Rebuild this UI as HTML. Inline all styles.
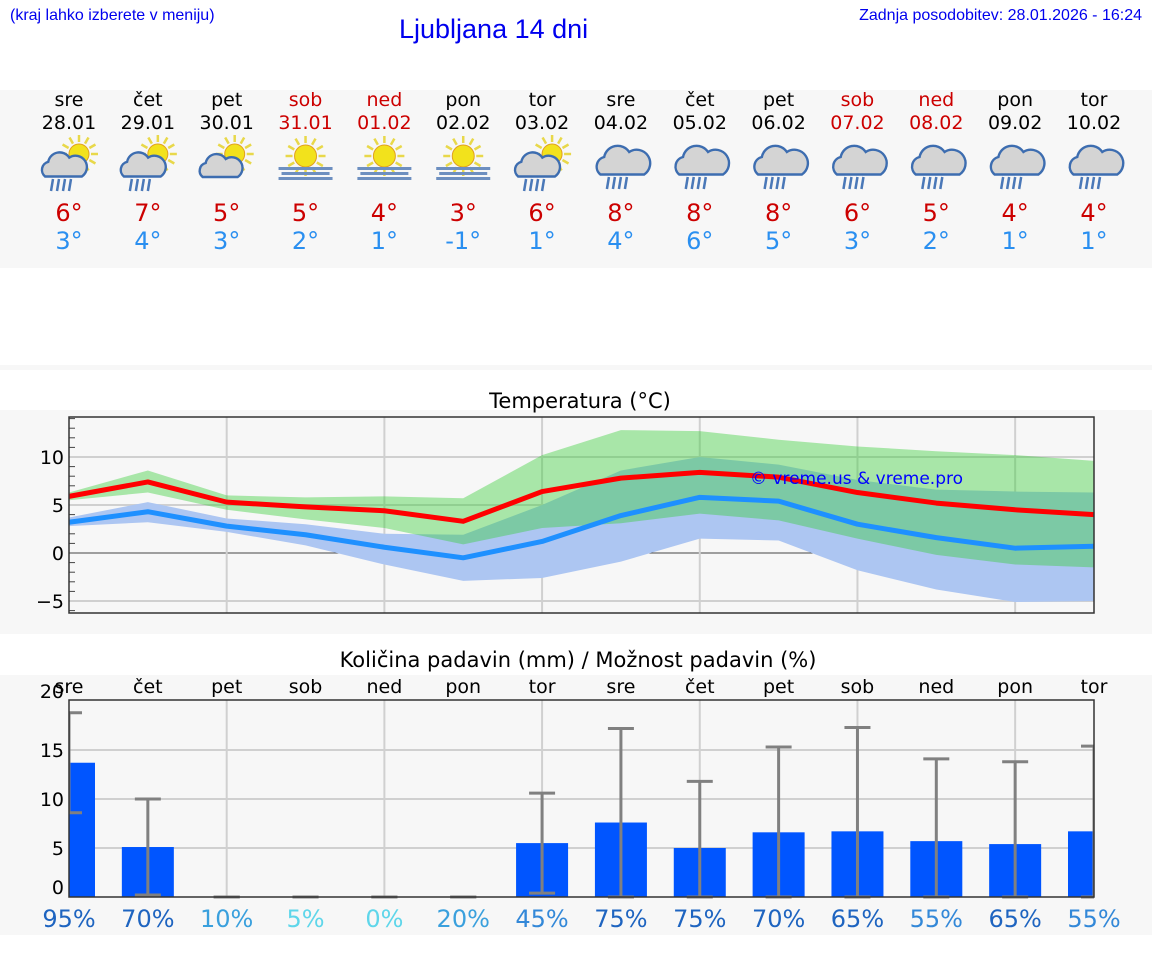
<!DOCTYPE html>
<html><head><meta charset="utf-8">
<style>
body{margin:0;width:1152px;height:975px;background:#fff;font-family:"Liberation Sans","DejaVu Sans",sans-serif;overflow:hidden;position:relative}
.abs{position:absolute}
svg text{font-family:"DejaVu Sans","Liberation Sans",sans-serif}
</style></head><body>
<div class="abs" style="left:10px;top:7px;font-size:16px;color:#0000ee">(kraj lahko izberete v meniju)</div>
<div class="abs" style="left:399px;top:14px;font-size:27px;color:#0000ee">Ljubljana 14 dni</div>
<div class="abs" style="right:10px;top:7px;font-size:16px;color:#0000ee">Zadnja posodobitev: 28.01.2026 - 16:24</div>
<svg id="main" class="abs" style="left:0;top:0" width="1152" height="975"></svg>
<script>
const days=["sre","čet","pet","sob","ned","pon","tor","sre","čet","pet","sob","ned","pon","tor"];
const dates=["28.01","29.01","30.01","31.01","01.02","02.02","03.02","04.02","05.02","06.02","07.02","08.02","09.02","10.02"];
const weekend=[0,0,0,1,1,0,0,0,0,0,1,1,0,0];
const icons=["sunrain","sunrain","suncloud","sunfog","sunfog","sunfog","sunrain","rain","rain","rain","rain","rain","rain","rain"];
const hiTemp=[6,7,5,5,4,3,6,8,8,8,6,5,4,4];
const loTemp=[3,4,3,2,1,-1,1,4,6,5,3,2,1,1];
const maxLine=[5.9,7.4,5.3,4.8,4.4,3.3,6.4,7.8,8.4,7.9,6.3,5.2,4.5,4.0];
const maxHigh=[6.3,8.6,6.0,5.8,5.9,5.7,10.2,12.8,12.7,11.8,11.1,10.6,10.2,9.6];
const maxLow=[5.5,6.3,4.5,3.5,2.6,0.9,2.6,3.1,4.1,3.4,1.5,-0.2,-1.2,-1.5];
const minLine=[3.2,4.3,2.8,1.9,0.6,-0.5,1.2,3.9,5.8,5.4,3.0,1.6,0.5,0.7];
const minHigh=[3.7,5.3,3.6,3.0,2.0,1.9,5.0,8.6,10.0,9.2,7.6,6.6,6.4,6.3];
const minLow=[2.8,3.2,2.2,0.8,-1.2,-2.9,-2.6,-0.9,1.5,1.3,-1.8,-3.8,-5.1,-5.0];
const tempTicks=[10,5,0,-5];
const precip=[13.7,5.1,0,0,0,0,5.5,7.6,5.0,6.6,6.7,5.7,5.4,6.7];
const precipHigh=[18.8,10,0,0,0,0,10.6,17.2,11.8,15.3,17.3,14.1,13.8,15.4];
const precipLow=[8.6,0.2,0,0,0,0,0.4,0,0,0,0,0,0,0];
const chance=[95,70,10,5,0,20,45,75,75,70,65,55,65,55];
const precipTicks=[20,15,10,5,0];

const NS="http://www.w3.org/2000/svg";
const svg=document.getElementById('main');
function mk(tag,attrs,parent){const e=document.createElementNS(NS,tag);for(const k in attrs)e.setAttribute(k,attrs[k]);(parent||svg).appendChild(e);return e;}
const X=i=>69+i*(1094-69)/13;
const TY=v=>553-9.6*v;
const PY=v=>897-9.8*v;

let p=mk('rect',{x:0,y:90,width:1152,height:178,fill:'#f7f7f7'});


p=mk('rect',{x:0,y:365,width:1152,height:5,fill:'#f7f7f7'});


p=mk('rect',{x:0,y:410,width:1152,height:224,fill:'#f7f7f7'});


p=mk('rect',{x:0,y:675,width:1152,height:260,fill:'#f7f7f7'});



function icon(g,type,cx,cy){
  const sun=(sx,sy,r)=>{for(let a=0;a<12;a++){const t=a*Math.PI/6;mk('line',{x1:sx+Math.cos(t)*(r+2),y1:sy+Math.sin(t)*(r+2),x2:sx+Math.cos(t)*(r+9),y2:sy+Math.sin(t)*(r+9),stroke:'#e8d84a','stroke-width':2.5},g);}
    mk('circle',{cx:sx,cy:sy,r:r,fill:'#f2e21c',stroke:'#e0a020','stroke-width':1},g);};
  const cloud=(x,y,s)=>{mk('path',{d:`M${x-18*s},${y+10*s} a${8*s},${8*s} 0 0 1 ${3*s},${-14*s} a${11*s},${11*s} 0 0 1 ${20*s},${-4*s} a${9*s},${9*s} 0 0 1 ${12*s},${18*s} z`,fill:'#d4d4d4',stroke:'#3d6db0','stroke-width':2.4},g);};
  const rain=(x,y)=>{for(let k=0;k<4;k++)mk('line',{x1:x+k*6,y1:y,x2:x+k*6-2,y2:y+12,stroke:'#4a78b8','stroke-width':2.5},g);};
  if(type==='sunrain'){sun(cx+10,cy-6,10);cloud(cx-5,cy+6,1.05);rain(cx-16,cy+19);}
  else if(type==='suncloud'){sun(cx+8,cy-6,10);cloud(cx-6,cy+7,1.0);}
  else if(type==='sunfog'){sun(cx,cy-4,11);for(let k=0;k<3;k++)mk('rect',{x:cx-27+(k==1?3:0),y:cy+7+k*5,width:54-(k==1?6:0),height:3,fill:'#6d8fc0'},g);}
  else {cloud(cx+2,cy+2,1.25);rain(cx-12,cy+17);}
}

for(let i=0;i<14;i++){
  const x=X(i);const col=weekend[i]?'#cc0000':'#000';
  const g=mk('g',{});
  
  
  let t=mk('text',{x:x,y:106,'text-anchor':'middle','font-size':19,fill:col},g);t.textContent=days[i];
  
  
  t=mk('text',{x:x,y:129,'text-anchor':'middle','font-size':19,fill:col},g);t.textContent=dates[i];
  
  
  const ig=mk('g',{},g);
  
  
  icon(ig,icons[i],x,160);
  t=mk('text',{x:x,y:221,'text-anchor':'middle','font-size':24,fill:'#cc0000'},g);t.textContent=hiTemp[i]+'°';
  
  
  t=mk('text',{x:x,y:249,'text-anchor':'middle','font-size':24,fill:'#2a8ff0'},g);t.textContent=loTemp[i]+'°';
  
  
}

let tt=mk('text',{x:580,y:408,'text-anchor':'middle','font-size':21,fill:'#000'});tt.textContent='Temperatura (°C)';


for(const v of [-6,-4,-3,-2,-1,1,2,3,4,6,7,8,9,11,12,13,14]){mk('line',{x1:69,x2:75,y1:TY(v),y2:TY(v),stroke:'#444','stroke-width':1});}
for(const v of tempTicks){mk('line',{x1:69,x2:1094,y1:TY(v),y2:TY(v),stroke:v===0?'#444':'#d0d0d0','stroke-width':v===0?1:2});
  const l=mk('text',{x:64,y:TY(v)+7,'text-anchor':'end','font-size':19,fill:'#000'});l.textContent=v<0?'−'+(-v):v;
  
  }
for(let i=2;i<14;i+=2)mk('line',{x1:X(i),x2:X(i),y1:417,y2:613,stroke:'#d0d0d0','stroke-width':2});
function band(hi,lo,fill,name){let d='M'+hi.map((v,i)=>X(i)+','+TY(v)).join(' L')+' L'+lo.map((v,i)=>[X(i),TY(v)]).reverse().map(a=>a.join(',')).join(' L')+'Z';
  const e=mk('path',{d:d,fill:fill});
  
  }
band(minHigh,minLow,'#adc6f2','min-temp-range');
band(maxHigh,maxLow,'rgba(50,205,50,0.4)','max-temp-range');
function line(arr,col,name){const e=mk('polyline',{points:arr.map((v,i)=>X(i)+','+TY(v)).join(' '),fill:'none',stroke:col,'stroke-width':5,'stroke-linejoin':'round'});
  
  }
line(maxLine,'#ff0000','max-temp-line');
line(minLine,'#1e90ff','min-temp-line');
let wm=mk('text',{x:750,y:484,'font-size':17,fill:'#0000ff'});wm.textContent='© vreme.us & vreme.pro';


let fr=mk('rect',{x:69,y:417,width:1025,height:196,fill:'none',stroke:'#333','stroke-width':1.5});



tt=mk('text',{x:578,y:667,'text-anchor':'middle','font-size':21,fill:'#000'});tt.textContent='Količina padavin (mm) / Možnost padavin (%)';


for(const v of precipTicks){if(v>0&&v<20)mk('line',{x1:69,x2:1094,y1:PY(v),y2:PY(v),stroke:'#d0d0d0','stroke-width':2});
  const l=mk('text',{x:64,y:PY(v)+(v===0||v===20?-3:7),'text-anchor':'end','font-size':19,fill:'#000'});l.textContent=v;
  
  }
for(let i=2;i<14;i+=2)mk('line',{x1:X(i),x2:X(i),y1:700,y2:897,stroke:'#d0d0d0','stroke-width':2});
const cg=mk('g',{'clip-path':'url(#pc)'});
const cp=mk('clipPath',{id:'pc'});mk('rect',{x:69,y:690,width:1025,height:210},cp);
const chanceColors=c=>c>=60?'#1e64c0':c>=40?'#3388d8':c>=10?'#3aa0dd':'#5fd6ea';
for(let i=0;i<14;i++){
  const x=X(i);
  const b=mk('rect',{x:x-26,y:PY(precip[i]),width:52,height:PY(0)-PY(precip[i]),fill:'#0055ff'},cg);
  
  
  const eg=mk('g',{stroke:'#808080','stroke-width':3},cg);
  
  
  mk('line',{x1:x,x2:x,y1:PY(precipHigh[i]),y2:PY(precipLow[i])},eg);
  mk('line',{x1:x-13,x2:x+13,y1:PY(precipHigh[i]),y2:PY(precipHigh[i])},eg);
  mk('line',{x1:x-13,x2:x+13,y1:PY(precipLow[i]),y2:PY(precipLow[i])},eg);
  let t=mk('text',{x:x,y:693,'text-anchor':'middle','font-size':19,fill:'#000'});t.textContent=days[i];
  
  
  t=mk('text',{x:x,y:927,'text-anchor':'middle','font-size':24,fill:chanceColors(chance[i])});t.textContent=chance[i]+'%';
  
  
}
fr=mk('rect',{x:69,y:700,width:1025,height:197,fill:'none',stroke:'#333','stroke-width':1.5});


</script>
</body></html>
